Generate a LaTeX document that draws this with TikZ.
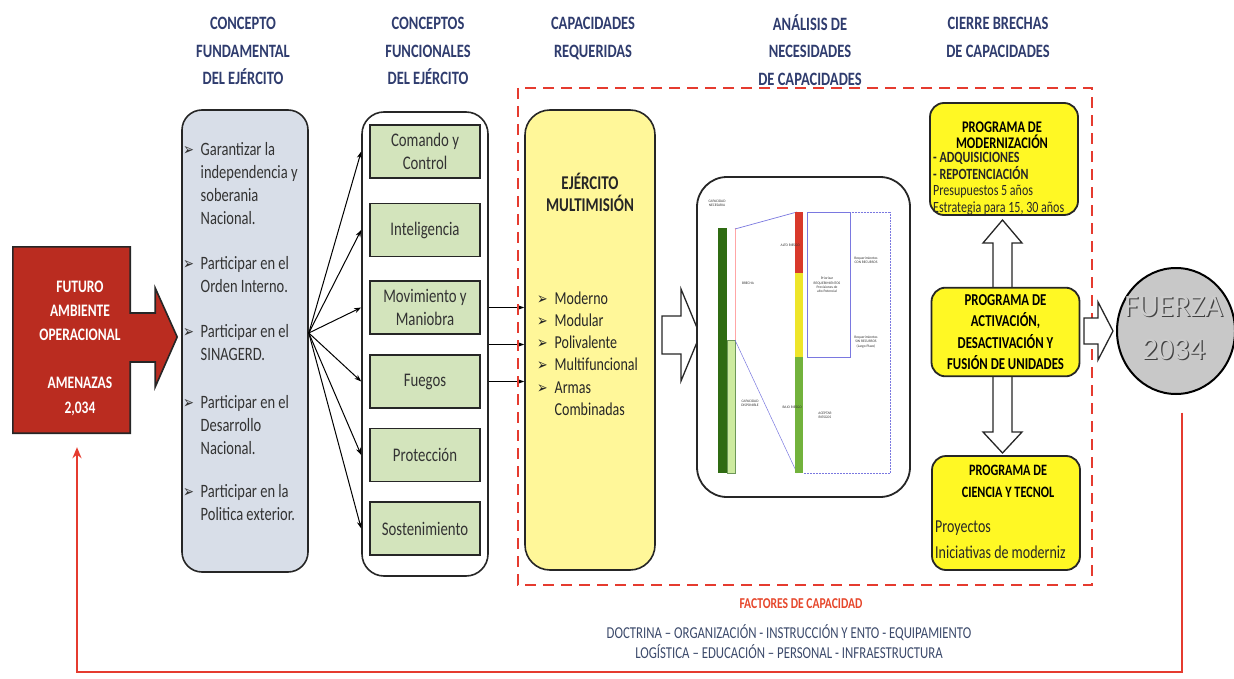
\documentclass[tikz,border=0pt]{standalone}
\usepackage{fontspec}
\setmainfont{Carlito}
\newfontfamily\simbolos[Scale=0.9]{DejaVu Sans}
\usepackage{xcolor}
\usetikzlibrary{shapes,arrows,positioning,calc,arrows.meta,backgrounds}

\definecolor{azultit}{HTML}{2F3C6E}
\definecolor{rojofao}{HTML}{BA2C20}
\definecolor{borde}{HTML}{262626}
\definecolor{grisfund}{HTML}{D8DEE8}
\definecolor{verdefun}{HTML}{D3E4BC}
\definecolor{amarclaro}{HTML}{FFF799}
\definecolor{amarillo}{HTML}{FFF824}
\definecolor{rojolinea}{HTML}{E53B2F}
\definecolor{naranja}{HTML}{E6472C}
\definecolor{azulpie}{HTML}{3C4A6B}
\definecolor{grisfuerza}{HTML}{C8C8C8}
\definecolor{texto}{HTML}{333333}
\definecolor{verdeosc}{HTML}{2F6B12}
\definecolor{verdecl}{HTML}{CDEB9F}
\definecolor{verdebarra}{HTML}{72B23C}
\definecolor{rojobarra}{HTML}{D8392B}
\definecolor{amarbarra}{HTML}{EEE52A}
\definecolor{azullinea}{HTML}{7A78E0}

\newcommand{\vineta}{\makebox[17.5pt][l]{\simbolos ➢}}

\begin{document}
\begin{tikzpicture}[x=1pt, y=-1pt, >={Stealth[length=7pt,width=5pt]},
    alto/.style={yscale=1.3, transform shape},
    titulo/.style={alto, anchor=north, inner sep=0, align=center, text=azultit, font=\fontsize{14.5}{21.2}\selectfont\bfseries},
    funbox/.style={alto, draw=borde, rectangle, line width=1.6pt, fill=verdefun, minimum height=40.8pt, minimum width=110pt, align=center, text=texto, font=\fontsize{14.8}{17.7}\selectfont},
    programa/.style={draw=borde, rectangle, rounded corners=14pt, line width=1.8pt, fill=amarillo, minimum width=148pt},
    hueca/.style={draw=borde, line width=1.3pt, fill=white, line join=miter},
    retro/.style={draw=rojolinea, line width=2.4pt, -{Stealth[length=11pt,width=9pt]}},
    cierre/.style={draw=rojolinea, line width=2.8pt, dash pattern=on 11pt off 7pt},
    chica/.style={font=\fontsize{3.6}{4.2}\selectfont, align=center, inner sep=0, text=black!80}]

\useasboundingbox (0,0) rectangle (1234,679);

% titulos
\node[titulo] (titfund) at (243,17) {CONCEPTO\\FUNDAMENTAL\\DEL EJÉRCITO};
\node[titulo] (titfunc) at (428,17) {CONCEPTOS\\FUNCIONALES\\DEL EJÉRCITO};
\node[titulo] (titcap) at (593,17) {CAPACIDADES\\REQUERIDAS};
\node[titulo] (titana) at (810,14) {ANÁLISIS DE\\NECESIDADES\\DE CAPACIDADES};
\node[titulo] (titcie) at (998,17) {CIERRE BRECHAS\\DE CAPACIDADES};

% futuro ambiente operacional
\node[minimum width=117pt, minimum height=186pt] (fao) at (71.5,340) {};
\begin{scope}[on background layer]
\draw[draw=borde, line width=1.6pt, fill=rojofao] (fao.north west) -- (fao.north east)
    -- ($(fao.east)+(0,-27)$) -- ($(fao.east)+(25,-27)$) -- ($(fao.east)+(25,-52)$)
    -- ($(fao.east)+(47,-3)$) -- ($(fao.east)+(25,47)$) -- ($(fao.east)+(25,22)$)
    -- ($(fao.east)+(0,22)$) -- (fao.south east) -- (fao.south west) -- cycle;
\end{scope}
\node[alto, anchor=north, inner sep=0, align=center, text=white, font=\fontsize{13.5}{18.5}\selectfont\bfseries] (faotxt) at (80,281) {FUTURO\\AMBIENTE\\OPERACIONAL\\[18.5pt]AMENAZAS\\2,034};

% concepto fundamental
\node[draw=borde, rectangle, rounded corners=20pt, line width=1.6pt, fill=grisfund, minimum width=126pt, minimum height=462pt] (fund) at (245,341) {};
\node[alto, anchor=north west, inner sep=0, text=texto, font=\fontsize{14.5}{17.7}\selectfont] (fundtxt) at (183,139) {%
\begin{tabular}{@{}l@{}l@{}}
\vineta & Garantizar la\\
 & independencia y\\
 & soberania\\
 & Nacional.\\[16.9pt]
\vineta & Participar en el\\
 & Orden Interno.\\[16.9pt]
\vineta & Participar en el\\
 & SINAGERD.\\[19.2pt]
\vineta & Participar en el\\
 & Desarrollo\\
 & Nacional.\\[15.4pt]
\vineta & Participar en la\\
 & Politica exterior.
\end{tabular}};

% conceptos funcionales
\node[draw=borde, rectangle, rounded corners=22pt, line width=1.6pt, fill=white, minimum width=126pt, minimum height=464pt] (func) at (425,344) {};
\node[funbox] (cyc) at (425,151.5) {Comando y\\Control};
\node[funbox] (intel) at (425,230) {Inteligencia};
\node[funbox] (mov) at (425,307.5) {Movimiento y\\Maniobra};
\node[funbox] (fue) at (425,381.5) {Fuegos};
\node[funbox] (pro) at (425,455) {Protección};
\node[funbox] (sos) at (425,528.5) {Sostenimiento};

\foreach \f in {cyc,intel,mov,fue,pro,sos}
    \draw[->, line width=1pt] ([yshift=8pt]fund.east) -- (\f.west -| func.west);

% capacidades requeridas
\node[draw=borde, rectangle, rounded corners=25pt, line width=1.6pt, fill=amarclaro, minimum width=130pt, minimum height=460pt] (cap) at (590,340) {};
\node[alto, anchor=north, inner sep=0, align=center, text=black!85, font=\fontsize{15}{16.9}\selectfont\bfseries] (captit) at (590,172.5) {EJÉRCITO\\MULTIMISIÓN};
\node[alto, anchor=north west, inner sep=0, text=black!85, font=\fontsize{14}{17.1}\selectfont] (captxt) at (537,288.4) {%
\begin{tabular}{@{}l@{}l@{}}
\vineta & Moderno\\
\vineta & Modular\\
\vineta & Polivalente\\
\vineta & Multifuncional\\
\vineta & Armas\\
 & Combinadas
\end{tabular}};

\coordinate (medio) at ($(mov.east)!0.5!(fue.east)$);
\foreach \f in {mov,medio,fue}
    \draw[->, line width=1pt] (\f -| func.east) -- (\f -| cap.west);

% marco de cierre
\draw[cierre] (518,88) rectangle (1092,585);

% analisis de necesidades
\draw[hueca] (662,316) -- (681,316) -- (681,289) -- (700,335) -- (681,381) -- (681,354) -- (662,354) -- cycle;
\node[draw=borde, rectangle, rounded corners=30pt, line width=1.8pt, fill=white, minimum width=213pt, minimum height=320pt] (ana) at (803.5,337) {};

\fill[verdeosc] (718,228) rectangle (727,473);
\draw[fill=verdecl, draw=verdeosc!70, line width=0.4pt] (727,340) rectangle (735,473);
\draw[red!35, line width=0.6pt] (735,228) -- (735,340);
\draw[azullinea, line width=0.7pt] (735,229) -- (797,212);
\draw[azullinea, line width=0.5pt] (735,340) -- (797,473);
\fill[rojobarra] (795,212) rectangle (803,273);
\fill[amarbarra] (795,273) rectangle (803,357);
\fill[verdebarra] (795,357) rectangle (803,473);
\draw[azullinea, line width=0.5pt] (807,212) rectangle (850,357);
\draw[azullinea, line width=0.5pt, densely dotted] (850,212) -- (890,212) -- (890,473) -- (803,473);
\node[chica] (lnec) at (717,203) {CAPACIDAD\\NECESARIA};
\node[chica] (lbre) at (748,283) {BRECHA};
\node[chica] (ldis) at (750,403) {CAPACIDAD\\DISPONIBLE};
\node[chica, anchor=east] (lalto) at (800,245) {ALTO RIESGO};
\node[chica, anchor=east] (lbajo) at (802,407) {BAJO RIESGO};
\node[chica] (lpri) at (827,285) {Priorizar\\REQUERIMIENTOS\\Previsiones de\\alto Potencial};
\node[chica] (lcon) at (866,260) {Requerimientos\\CON RECURSOS};
\node[chica] (lsin) at (866,342) {Requerimientos\\SIN RECURSOS\\(Largo Plazo)};
\node[chica] (lace) at (825,415) {ACEPTAR\\RIESGOS};

% cierre de brechas
\node[programa, minimum height=112pt] (moder) at (1004,159) {};
\node[alto, anchor=north, inner sep=0, align=center, text=black, font=\fontsize{12.5}{11.8}\selectfont\bfseries] (modertit) at (1002,122) {PROGRAMA DE\\MODERNIZACIÓN};
\node[alto, anchor=north west, inner sep=0, align=left, text=black!85, font=\fontsize{12}{12.8}\selectfont] (moderlst) at (933,152) {{\bfseries - ADQUISICIONES}\\{\bfseries - REPOTENCIACIÓN}\\Presupuestos 5 años\\Estrategia para 15, 30 años};

\node[programa, minimum height=114pt] (cien) at (1006,513) {};
\node[alto, anchor=north, inner sep=0, align=center, text=black, font=\fontsize{12.2}{16.9}\selectfont\bfseries] (cientit) at (1008,465) {PROGRAMA DE\\CIENCIA Y TECNOL};
\node[alto, anchor=north west, inner sep=0, align=left, text=black!85, font=\fontsize{14}{20}\selectfont] (cienlst) at (935,520.5) {Proyectos\\Iniciativas de moderniz};

\draw[hueca] (1002.5,220) -- (1022,243) -- (1012,243) -- (1012,432) -- (1022,432) -- (1002.5,453)
    -- (983,432) -- (993,432) -- (993,243) -- (983,243) -- cycle;

\node[programa, alto, minimum height=68.2pt, align=center, text=black, font=\fontsize{12.8}{16.5}\selectfont\bfseries] (act) at (1005.5,332) {PROGRAMA DE\\ACTIVACIÓN,\\DESACTIVACIÓN Y\\FUSIÓN DE UNIDADES};

\draw[hueca] (1084,318) -- (1098,318) -- (1098,302) -- (1113,331) -- (1098,360) -- (1098,344) -- (1084,344) -- cycle;

% fuerza 2034
\node[ellipse, draw=black, line width=2pt, fill=grisfuerza, minimum width=118pt, minimum height=126pt] (fuerza) at (1176,331) {};
\node[anchor=north, inner sep=0, align=center, text=black!75, font=\fontsize{31}{43}\selectfont] (fuerzasombra) at (1174.8,297.8) {FUERZA\\2034};
\node[anchor=north, inner sep=0, align=center, text=gray!40, font=\fontsize{31}{43}\selectfont] (fuerzatxt) at (1173.6,296.6) {FUERZA\\2034};

\draw[retro, shorten <=17.5pt, shorten >=14pt] ([xshift=6pt]fuerza.south) -- ([xshift=6pt]fuerza.south |- 0,672) -| ([xshift=5.5pt]fao.south);

% factores de capacidad
\node[alto, anchor=base, inner sep=0, text=naranja, font=\fontsize{11.6}{14}\selectfont\bfseries] (factores) at (801,608) {FACTORES DE CAPACIDAD};
\node[alto, anchor=north, inner sep=0, align=center, text=azulpie, font=\fontsize{12.8}{15.4}\selectfont] (factlst) at (789,624.5) {DOCTRINA – ORGANIZACIÓN - INSTRUCCIÓN Y ENTO - EQUIPAMIENTO\\LOGÍSTICA – EDUCACIÓN – PERSONAL - INFRAESTRUCTURA};

\end{tikzpicture}
\end{document}
